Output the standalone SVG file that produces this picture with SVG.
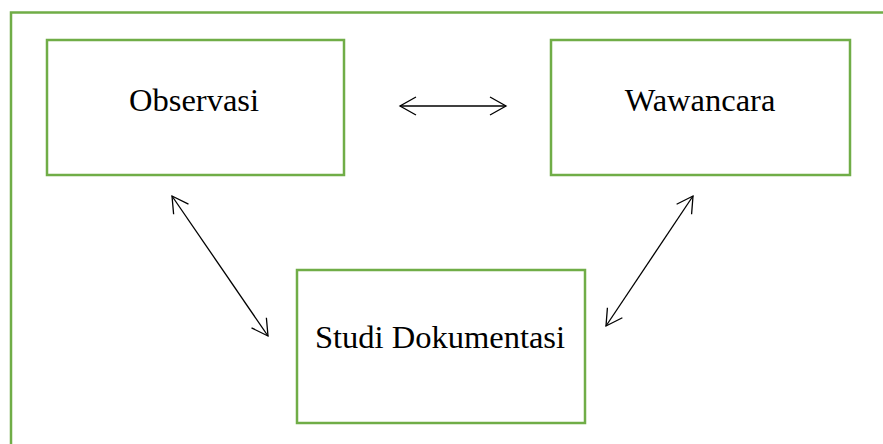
<svg xmlns="http://www.w3.org/2000/svg" width="883" height="444" viewBox="0 0 883 444">
<style>
.box{fill:#fff;stroke:#70AD47;stroke-width:2.5}
.frame{fill:none;stroke:#70AD47;stroke-width:2.5}
.lbl{font-family:"Liberation Serif","Times New Roman",serif;font-size:32.5px;fill:#000;text-anchor:middle}
.conn{stroke:#000;stroke-width:1.3;fill:none;marker-start:url(#ah);marker-end:url(#ah)}
</style>
<defs>
<marker id="ah" markerUnits="userSpaceOnUse" markerWidth="20" markerHeight="20" refX="17" refY="10" orient="auto-start-reverse" viewBox="0 0 20 20">
<path d="M1,1 L17,10 L1,19" fill="none" stroke="#000" stroke-width="1.3"/>
</marker>
</defs>
<rect width="883" height="444" fill="#fff"/>
<path class="frame" d="M11,460 L11,12.5 L900,12.5"/>
<g id="observasi">
<rect class="box" x="47" y="40" width="297" height="135"/>
<text class="lbl" x="194" y="111">Observasi</text>
</g>
<g id="wawancara">
<rect class="box" x="551" y="40" width="299" height="135"/>
<text class="lbl" x="700" y="111">Wawancara</text>
</g>
<g id="studi">
<rect class="box" x="297" y="270" width="288" height="153"/>
<text class="lbl" x="440" y="348">Studi Dokumentasi</text>
</g>
<g id="connectors">
<line class="conn" x1="400" y1="106" x2="506" y2="106"/>
<line class="conn" x1="172" y1="196" x2="268" y2="336"/>
<line class="conn" x1="693" y1="196" x2="606" y2="326"/>
</g>
</svg>
